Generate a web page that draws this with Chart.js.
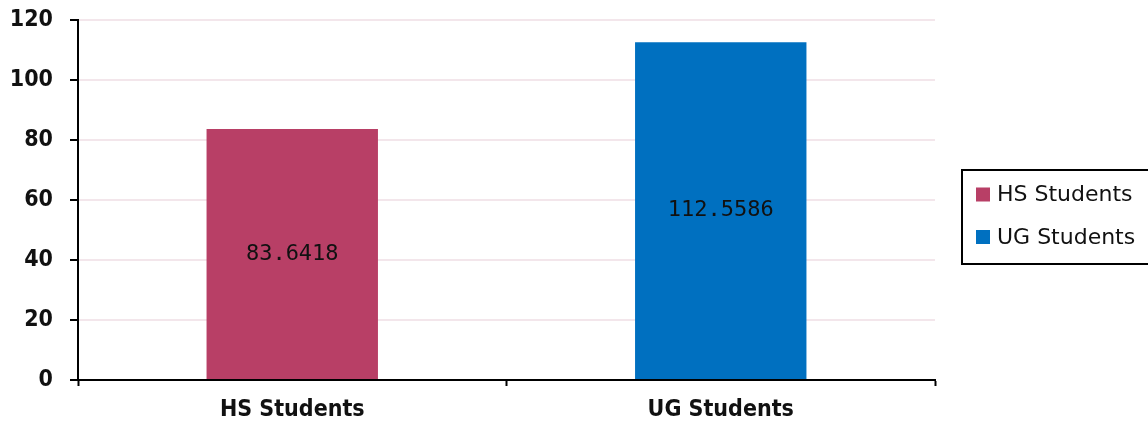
<!DOCTYPE html>
<html>
<head>
<meta charset="utf-8">
<script src="https://cdn.jsdelivr.net/npm/chart.js@4.4.1/dist/chart.umd.min.js"></script>
<style>
html,body{margin:0;padding:0;background:#fff;}
#wrap{width:1148px;height:425px;position:relative;}
</style>
</head>
<body>
<div id="wrap"><canvas id="c" width="1148" height="425"></canvas></div>
<script>
const categories = ["HS Students", "UG Students"];
const values = [83.6418, 112.5586];
const barColors = ["#B83F66", "#0070C0"];
const yTicks = [0, 20, 40, 60, 80, 100, 120];

const valueLabels = {
  id: 'valueLabels',
  afterDatasetsDraw(chart) {
    const ctx = chart.ctx;
    const meta = chart.getDatasetMeta(0);
    ctx.save();
    ctx.font = '22px "DejaVu Sans Mono", monospace';
    ctx.fillStyle = '#111';
    ctx.textAlign = 'center';
    ctx.textBaseline = 'middle';
    meta.data.forEach((bar, i) => {
      const y = (bar.y + bar.base) / 2;
      ctx.fillText(String(values[i]), bar.x, y);
    });
    ctx.restore();
  }
};

const boxedLegend = {
  id: 'boxedLegend',
  afterDraw(chart) {
    const ctx = chart.ctx;
    const left = 962, top = 170, bottom = 264;
    ctx.save();
    ctx.lineWidth = 2;
    ctx.strokeStyle = '#000';
    ctx.strokeRect(left, top, 240, bottom - top);
    ctx.font = '22px "DejaVu Sans", sans-serif';
    ctx.textBaseline = 'middle';
    ctx.textAlign = 'left';
    const rows = [194.5, 237];
    categories.forEach((name, i) => {
      ctx.fillStyle = barColors[i];
      ctx.fillRect(976, rows[i] - 7, 14, 14);
      ctx.fillStyle = '#111';
      ctx.fillText(name, 997, rows[i] + 1);
    });
    ctx.restore();
  }
};

new Chart(document.getElementById('c'), {
  type: 'bar',
  data: {
    labels: categories,
    datasets: [{
      data: values,
      backgroundColor: barColors,
      borderWidth: 0,
      categoryPercentage: 1.0,
      barPercentage: 0.4
    }]
  },
  options: {
    responsive: false,
    animation: false,
    layout: { padding: { top: 20, right: 213, left: 0, bottom: 0 } },
    plugins: { legend: { display: false }, tooltip: { enabled: false } },
    scales: {
      x: {
        afterFit(s) { s.height = 45; s.paddingLeft = 0; s.paddingRight = 0; },
        grid: { drawOnChartArea: false, offset: true, tickLength: 6, tickColor: '#000', tickWidth: 2 },
        border: { color: '#000', width: 2 },
        ticks: { color: '#111', padding: 10, font: { family: '"DejaVu Sans Condensed", "DejaVu Sans", sans-serif', size: 23, weight: 'bold' } }
      },
      y: {
        min: 0, max: 120,
        afterFit(s) { s.width = 78; s.paddingTop = 0; s.paddingBottom = 0; },
        afterBuildTicks(s) { s.ticks = yTicks.map(v => ({ value: v })); },
        grid: { color: '#F3E6EB', lineWidth: 2, tickLength: 8, tickColor: '#000', tickWidth: 2 },
        border: { color: '#000', width: 2 },
        ticks: { color: '#111', padding: 17, font: { family: '"DejaVu Sans Condensed", "DejaVu Sans", sans-serif', size: 23, weight: 'bold' } }
      }
    }
  },
  plugins: [valueLabels, boxedLegend]
});
</script>
</body>
</html>
